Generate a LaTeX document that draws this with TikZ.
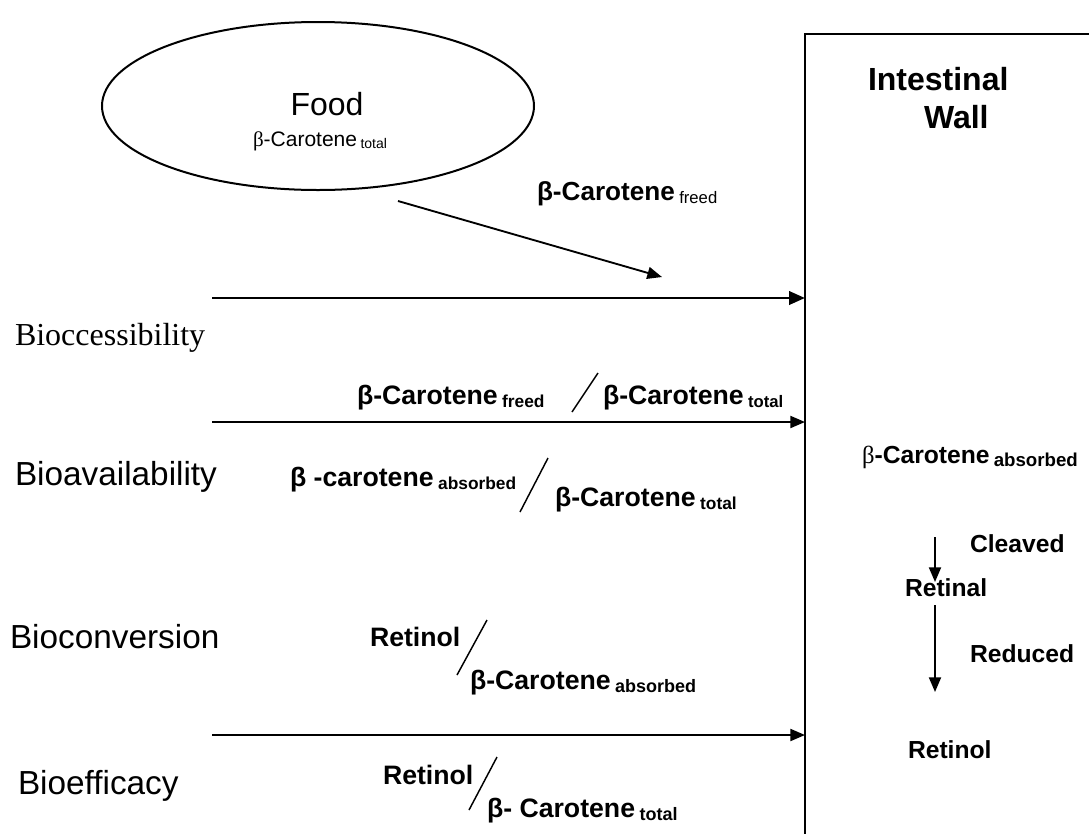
\documentclass[tikz,border=0pt]{standalone}
\usepackage{fontspec}
\setmainfont{Liberation Sans}
\newfontfamily\timesf{Liberation Serif}
\usetikzlibrary{arrows.meta,shapes.geometric}
\newcommand{\fs}[1]{\fontsize{#1}{#1}\selectfont}
\newcommand{\lowsub}[2]{\,{\fs{#1}\raisebox{-0.4ex}{#2}}}
\tikzset{
  txt/.style={inner sep=0pt, outer sep=0pt, anchor=base west},
  ctxt/.style={inner sep=0pt, outer sep=0pt, anchor=base},
  lefttxt/.style={txt, font=\fs{25}},
  fml/.style={txt, font=\fs{20}\bfseries},
  rcol/.style={txt, font=\fs{18.5}\bfseries},
  thinarrow/.style={line width=1.4pt, -{Triangle[length=11pt,width=9pt]}},
  midarrow/.style={line width=1.5pt, -{Triangle[length=11pt,width=9pt]}},
  thickarrow/.style={line width=2.2pt, -{Triangle[length=12pt,width=10pt]}},
  slash/.style={line width=1.1pt},
  wall/.style={line width=1.5pt}
}
\begin{document}
\begin{tikzpicture}[x=0.75pt,y=-0.75pt]
\useasboundingbox (0,0) rectangle (1089,833);
\fill[white] (0,0) rectangle (1089,833);

% Food ellipse
\node[ellipse, draw, line width=1.5pt, minimum width=432*0.75pt, minimum height=168*0.75pt, inner sep=0pt] (food) at (318,106) {};
\node[ctxt, font=\fs{24}] (foodlbl) at (327,115) {Food};
\node[txt, font=\fs{15.75}] (foodsub) at (253,146) {{\timesf β}-Carotene\lowsub{10.5}{total}};

% freed label and arrow
\node[txt, font=\fs{19.6}\bfseries] (freedlbl) at (537,200) {β-Carotene\lowsub{12.5}{\mdseries freed}};
\coordinate (d1s) at (398,201);
\coordinate (d1e) at (662,277);
\draw[thinarrow] (d1s) -- (d1e);

% Intestinal wall box
\coordinate (wtl) at (805,34);
\coordinate (wtr) at (1095,34);
\coordinate (wbl) at (805,840);
\draw[wall] (wtr) -- (wtl) -- (wbl);
\node[txt, font=\fs{24}\bfseries] (iw1) at (868,90) {Intestinal};
\node[txt, font=\fs{24}\bfseries] (iw2) at (924,128) {Wall};

% horizontal arrows
\coordinate (h1s) at (212,298); \coordinate (h1e) at (805,298);
\coordinate (h2s) at (212,422); \coordinate (h2e) at (805,422);
\coordinate (h3s) at (212,735); \coordinate (h3e) at (805,735);
\draw[thickarrow] (h1s) -- (h1e);
\draw[midarrow] (h2s) -- (h2e);
\draw[midarrow] (h3s) -- (h3e);

% left labels
\node[txt, font=\timesf\fs{24}] (bacc) at (15,345) {Bioccessibility};
\node[lefttxt] (bav) at (15,485) {Bioavailability};
\node[lefttxt] (bconv) at (10,648) {Bioconversion};
\node[lefttxt] (beff) at (18,794) {Bioefficacy};

% formula row 1
\node[fml] (f1a) at (357,404) {β-Carotene\lowsub{13}{freed}};
\coordinate (s1t) at (598,373); \coordinate (s1b) at (572,412);
\draw[slash] (s1t) -- (s1b);
\node[fml] (f1b) at (603,404) {β-Carotene\lowsub{12.5}{total}};

% formula row 2
\node[fml] (f2a) at (290,486) {β -carotene\lowsub{13}{absorbed}};
\coordinate (s2t) at (548,458); \coordinate (s2b) at (520,512);
\draw[slash] (s2t) -- (s2b);
\node[fml] (f2b) at (555,506) {β-Carotene\lowsub{13}{total}};

% formula row 3
\node[fml] (f3a) at (370,646) {Retinol};
\coordinate (s3t) at (487,620); \coordinate (s3b) at (457,675);
\draw[slash] (s3t) -- (s3b);
\node[fml] (f3b) at (470,689) {β-Carotene\lowsub{13.5}{absorbed}};

% formula row 4
\node[fml] (f4a) at (383,784) {Retinol};
\coordinate (s4t) at (497,757); \coordinate (s4b) at (469,810);
\draw[slash] (s4t) -- (s4b);
\node[fml] (f4b) at (487,817) {β- Carotene\lowsub{13.5}{total}};

% right column
\node[rcol] (rabs) at (862,463) {{\timesf\mdseries β}-Carotene\lowsub{14}{absorbed}};
\coordinate (v1s) at (935,537); \coordinate (v1e) at (935,582);
\draw[thinarrow] (v1s) -- (v1e);
\node[rcol] (cleav) at (970,552) {Cleaved};
\node[rcol] (retinal) at (905,596) {Retinal};
\coordinate (v2s) at (935,605); \coordinate (v2e) at (935,692);
\draw[thinarrow] (v2s) -- (v2e);
\node[rcol] (reduc) at (970,662) {Reduced};
\node[rcol] (retinol) at (908,758) {Retinol};
\end{tikzpicture}
\end{document}
